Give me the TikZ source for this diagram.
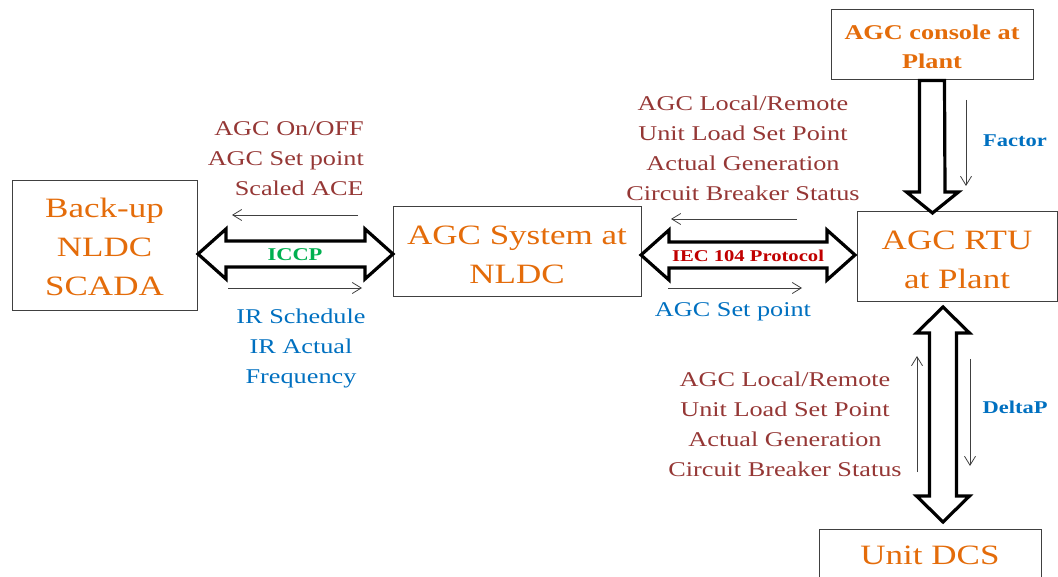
\documentclass[tikz,border=0pt]{standalone}
\usepackage{fontspec}
\setmainfont{Liberation Serif}[FakeStretch=1.25]
\usetikzlibrary{arrows.meta,calc}
\definecolor{orng}{HTML}{E46C0A}
\definecolor{lblred}{HTML}{953735}
\definecolor{lblblue}{HTML}{0070C0}
\definecolor{iccpgreen}{HTML}{00B050}
\definecolor{iecred}{HTML}{C00000}
\definecolor{boxgray}{HTML}{404040}
\newcommand{\dblH}[2]{\draw[blockarrow] (#1) -- ($(#1)+(28,-25)$) -- ($(#1)+(28,-13)$) -- ($(#2)+(-28,-13)$) -- ($(#2)+(-28,-25)$) -- (#2) -- ($(#2)+(-28,25)$) -- ($(#2)+(-28,13)$) -- ($(#1)+(28,13)$) -- ($(#1)+(28,25)$) -- cycle;}
\newcommand{\dblV}[2]{\draw[blockarrow] (#1) -- ($(#1)+(26.5,26)$) -- ($(#1)+(13.5,26)$) -- ($(#2)+(13.5,-26)$) -- ($(#2)+(26.5,-26)$) -- (#2) -- ($(#2)+(-26.5,-26)$) -- ($(#2)+(-13.5,-26)$) -- ($(#1)+(-13.5,26)$) -- ($(#1)+(-26.5,26)$) -- cycle;}
\begin{document}
\begin{tikzpicture}[x=1pt,y=-1pt,
  box/.style={draw=boxgray,line width=1pt,fill=white,inner sep=0pt},
  boxtext/.style={inner sep=0pt,align=center,text=orng,font=\fontsize{28}{39}\selectfont},
  blockarrow/.style={draw=black,fill=white,line width=3.2pt,line join=miter},
  thinarrow/.style={draw=boxgray,line width=0.8pt,-{Straight Barb[length=9pt,width=11pt]}},
  redlbl/.style={text=lblred,align=center,inner sep=0pt,font=\fontsize{21}{30}\selectfont},
  bluelbl/.style={text=lblblue,align=center,inner sep=0pt,font=\fontsize{21}{30}\selectfont},
  boldlbl/.style={inner sep=0pt,font=\fontsize{18}{20}\selectfont\bfseries}]
\useasboundingbox (0,0) rectangle (1058,577);
% boxes
\node[box,minimum width=185,minimum height=130] (backup) at (104.5,246) {};
\node[boxtext] (backupT) at ($(backup.center)+(0,1)$) {Back-up\\NLDC\\SCADA};
\node[box,minimum width=248,minimum height=90] (nldc) at (517,252) {};
\node[boxtext] (nldcT) at ($(nldc.center)+(0,3)$) {AGC System at\\NLDC};
\node[box,minimum width=202,minimum height=70] (console) at (932,45) {};
\node[boxtext,font=\fontsize{21}{29}\selectfont\bfseries] (consoleT) at ($(console.center)+(0,1.5)$) {AGC console at\\Plant};
\node[box,minimum width=200,minimum height=90] (rtu) at (957,257) {};
\node[boxtext] (rtuT) at ($(rtu.center)+(0,3)$) {AGC RTU\\at Plant};
\node[box,minimum width=222,minimum height=50] (dcs) at (930,554) {};
\node[boxtext] (dcsT) at ($(dcs.center)+(0,1)$) {Unit DCS};
% block arrows
\coordinate (iccpL) at (198,254);
\coordinate (iccpR) at (393,254);
\dblH{iccpL}{iccpR}
\coordinate (iecL) at (641,255);
\coordinate (iecR) at (855,255);
\dblH{iecL}{iecR}
\draw[blockarrow] ($(console.south)+(-12.5,0)$) -- ($(console.south)+(12.5,0)$) -- (945,192) -- (958.5,192) -- (932.5,213) -- (906.5,192) -- (919.5,192) -- cycle;
\coordinate (vT) at (943,307);
\coordinate (vB) at (943,522);
\dblV{vT}{vB}
% thin arrows
\coordinate (t1s) at (358,215); \coordinate (t1e) at (232,215);
\draw[thinarrow] (t1s) -- (t1e);
\coordinate (t2s) at (228,288); \coordinate (t2e) at (362,288);
\draw[thinarrow] (t2s) -- (t2e);
\coordinate (t3s) at (797,219); \coordinate (t3e) at (671,219);
\draw[thinarrow] (t3s) -- (t3e);
\coordinate (t4s) at (668,288); \coordinate (t4e) at (802,288);
\draw[thinarrow] (t4s) -- (t4e);
\coordinate (t5s) at (966,100); \coordinate (t5e) at (966,186);
\draw[thinarrow] (t5s) -- (t5e);
\coordinate (t6s) at (917,472); \coordinate (t6e) at (917,356);
\draw[thinarrow] (t6s) -- (t6e);
\coordinate (t7s) at (970,359); \coordinate (t7e) at (970,466);
\draw[thinarrow] (t7s) -- (t7e);
% labels
\node[redlbl,align=right,anchor=east] (l1) at (364,159) {AGC On/OFF\\AGC Set point\\Scaled ACE};
\node[bluelbl] (l2) at (301,348) {IR Schedule\\IR Actual\\Frequency};
\node[boldlbl,text=iccpgreen] (l3) at (295,255) {ICCP};
\node[redlbl] (l4) at (743,148) {AGC Local/Remote\\Unit Load Set Point\\Actual Generation\\Circuit Breaker Status};
\node[boldlbl,text=iecred,font=\fontsize{16.5}{20}\selectfont\bfseries] (l5) at (748,256) {IEC 104 Protocol};
\node[bluelbl] (l6) at (733,312) {AGC Set point};
\node[boldlbl,text=lblblue] (l7) at (1015,141) {Factor};
\node[redlbl] (l8) at (785,424) {AGC Local/Remote\\Unit Load Set Point\\Actual Generation\\Circuit Breaker Status};
\node[boldlbl,text=lblblue] (l9) at (1015,407) {DeltaP};
\end{tikzpicture}
\end{document}
